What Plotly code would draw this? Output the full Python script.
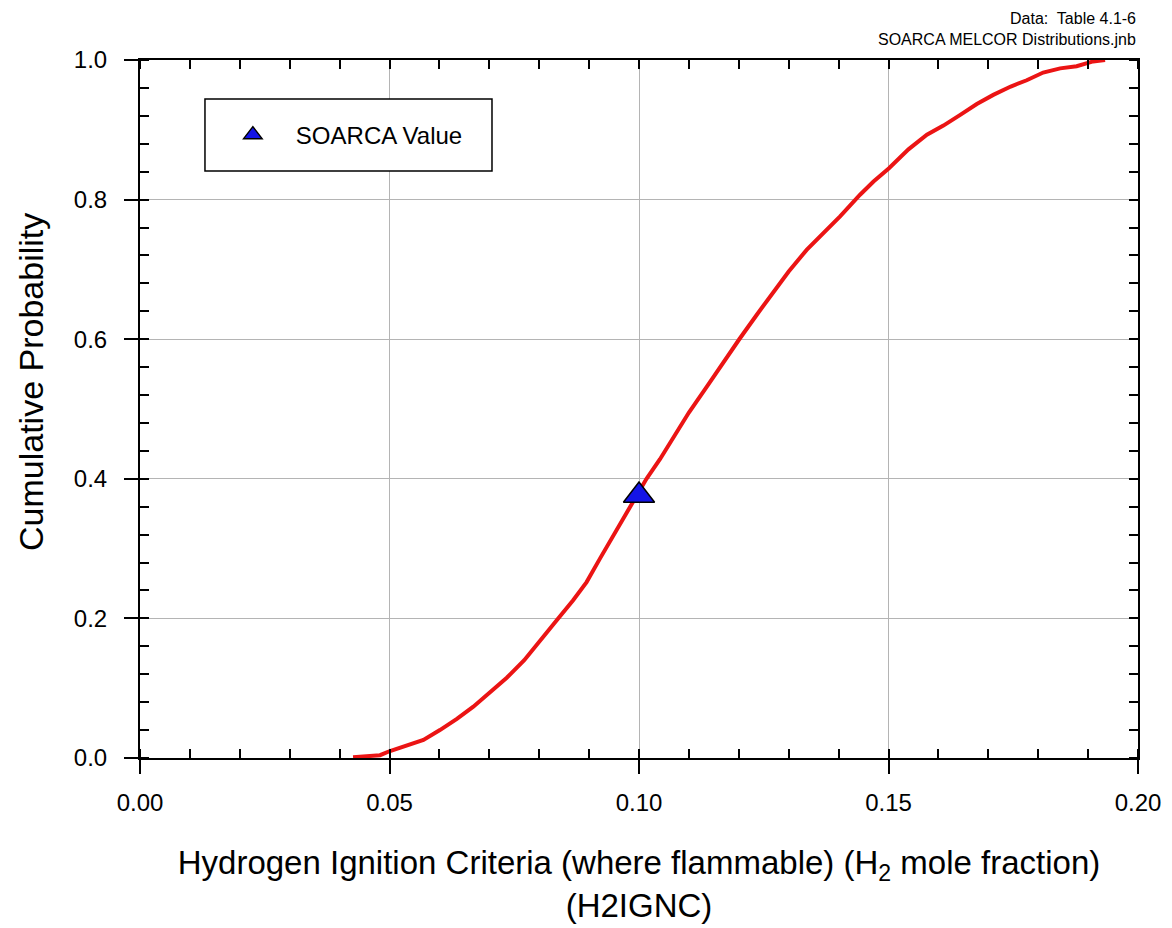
import plotly.graph_objects as go

# ---- data ----
h2_frac = [0.0427, 0.0481, 0.0501, 0.0535, 0.0568, 0.0601, 0.0635, 0.0668, 0.0700, 0.0735,
           0.0770, 0.0802, 0.0838, 0.0868, 0.0895, 0.0922, 0.0962, 0.0989, 0.1015, 0.1042,
           0.1069, 0.1100, 0.1136, 0.1170, 0.1202, 0.1235, 0.1269, 0.1300, 0.1336, 0.1370,
           0.1403, 0.1443, 0.1470, 0.1501, 0.1540, 0.1577, 0.1610, 0.1643, 0.1677, 0.1710,
           0.1745, 0.1777, 0.1810, 0.1844, 0.1877, 0.1910, 0.1934]
cum_prob = [0.001, 0.004, 0.010, 0.018, 0.026, 0.040, 0.056, 0.0735, 0.093, 0.115,
            0.140, 0.169, 0.200, 0.226, 0.252, 0.286, 0.336, 0.367, 0.400, 0.428,
            0.458, 0.495, 0.532, 0.568, 0.601, 0.634, 0.666, 0.697, 0.728, 0.752,
            0.776, 0.807, 0.826, 0.845, 0.872, 0.893, 0.906, 0.921, 0.937, 0.950,
            0.962, 0.971, 0.982, 0.988, 0.991, 0.998, 1.000]

soarca_x = [0.10]
soarca_y = [0.376]

x_ticks = [0.00, 0.05, 0.10, 0.15, 0.20]
y_ticks = [0.0, 0.2, 0.4, 0.6, 0.8, 1.0]

FONT = "Liberation Sans, Arial, sans-serif"

fig = go.Figure()
fig.add_trace(go.Scatter(x=h2_frac, y=cum_prob, mode="lines",
                         line=dict(color="rgb(235,20,20)", width=4),
                         showlegend=False, hoverinfo="skip"))
# marker trace drawn on the (identical-range) mirrored axes so they get rendered
fig.add_trace(go.Scatter(x=soarca_x, y=soarca_y, mode="markers", name="SOARCA Value",
                         xaxis="x2", yaxis="y2",
                         marker=dict(symbol="triangle-up", size=27, color="rgb(20,20,230)",
                                     line=dict(color="black", width=1.5))))

axis_common = dict(showline=True, linecolor="black", linewidth=2, zeroline=False,
                   showgrid=True, gridcolor="rgb(180,180,180)", gridwidth=1,
                   ticks="outside", ticklen=14, tickwidth=1.5, tickcolor="black",
                   tickfont=dict(family=FONT, size=24, color="black"))

fig.update_layout(
    width=1164, height=920,
    margin=dict(l=132, r=34, t=52, b=170),
    paper_bgcolor="white", plot_bgcolor="white",
    font=dict(family=FONT, color="black"),
    xaxis=dict(range=[0, 0.2], tickvals=x_ticks, tickformat=".2f",
               ticklabelstandoff=8,
               minor=dict(dtick=0.01, ticks="inside", ticklen=9, tickwidth=1.5,
                          tickcolor="black", showgrid=False),
               title=dict(text="Hydrogen Ignition Criteria (where flammable) (H<sub>2</sub> mole fraction)<br>(H2IGNC)",
                          font=dict(family=FONT, size=33, color="black"), standoff=36),
               automargin=False, **axis_common),
    yaxis=dict(range=[0, 1], tickvals=y_ticks, tickformat=".1f",
               ticklabelstandoff=12,
               minor=dict(dtick=0.04, ticks="inside", ticklen=9, tickwidth=1.5,
                          tickcolor="black", showgrid=False),
               automargin=False, **axis_common),
    xaxis2=dict(overlaying="x", side="top", range=[0, 0.2], showticklabels=False,
                showgrid=False, zeroline=False, showline=True, linecolor="black", linewidth=2,
                tickvals=x_ticks, ticks="",
                minor=dict(dtick=0.01, ticks="inside", ticklen=9, tickwidth=1.5, tickcolor="black")),
    yaxis2=dict(overlaying="y", side="right", range=[0, 1], showticklabels=False,
                showgrid=False, zeroline=False, showline=True, linecolor="black", linewidth=2,
                tickvals=y_ticks, ticks="",
                minor=dict(dtick=0.04, ticks="inside", ticklen=9, tickwidth=1.5, tickcolor="black")),
    legend=dict(x=0.070, y=0.8925, xanchor="left", yanchor="middle",
                bgcolor="rgba(0,0,0,0)", borderwidth=0, itemwidth=76,
                font=dict(family=FONT, size=24, color="black")),
    shapes=[dict(type="rect", xref="paper", yref="paper", x0=0.0651, x1=0.3527,
                 y0=0.841, y1=0.944, line=dict(color="black", width=1.5),
                 fillcolor="white", layer="above")],
    annotations=[
        dict(text="Data:  Table 4.1-6", xref="paper", yref="paper", x=1.0, y=1.060,
             xanchor="right", yanchor="middle", showarrow=False,
             font=dict(family=FONT, size=16, color="black")),
        dict(text="SOARCA MELCOR Distributions.jnb", xref="paper", yref="paper", x=1.0, y=1.0287,
             xanchor="right", yanchor="middle", showarrow=False,
             font=dict(family=FONT, size=16, color="black")),
        dict(text="Cumulative Probability", xref="paper", yref="paper", x=-0.1092, y=0.5387,
             xanchor="center", yanchor="middle", textangle=-90, showarrow=False,
             font=dict(family=FONT, size=34, color="black")),
    ],
)

fig.write_html("out.html")
